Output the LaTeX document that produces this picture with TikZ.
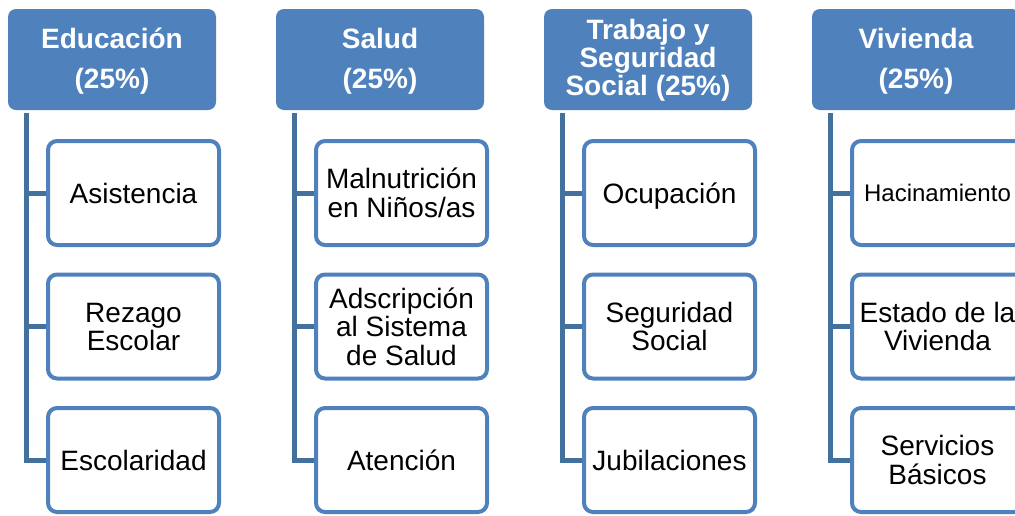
\documentclass[tikz,border=0pt]{standalone}
\usepackage{fontspec}
\setmainfont{Liberation Sans}
\definecolor{hdrblue}{HTML}{4F81BD}
\definecolor{linkblue}{HTML}{41719C}
\newcommand\myTop{\rule{0pt}{28pt}}
\newcommand\myBot{\rule[-8pt]{0pt}{8pt}}
\newcommand\myHBot{\rule[-11pt]{0pt}{11pt}}
\newcommand\myTBot{\rule[-12pt]{0pt}{12pt}}
\tikzset{
  hdr/.style={rectangle, rounded corners=8pt, fill=hdrblue, draw=none,
    minimum width=208pt, minimum height=101pt, inner sep=0pt,
    text=white, align=center, font=\bfseries\fontsize{28}{40}\selectfont},
  hdrtight/.style={hdr, font=\bfseries\fontsize{28}{28}\selectfont},
  child/.style={rectangle, rounded corners=9pt, draw=hdrblue, line width=4pt,
    fill=white, minimum width=171pt, minimum height=104pt, inner sep=0pt,
    text=black, align=center, font=\fontsize{28}{28.5}\selectfont},
  conn/.style={draw=linkblue, line width=5pt, line join=miter}
}
\begin{document}
\begin{tikzpicture}[x=1pt,y=-1pt]
\useasboundingbox (0,0) rectangle (1015,515);
\clip (0,0) rectangle (1015,515);
% headers
\node[hdr] (eh) at (112,59.5) {\myTop Educación\\(25\%)\myHBot};
\node[hdr] (sh) at (380,59.5) {\myTop Salud\\(25\%)\myHBot};
\node[hdrtight] (th) at (648,59.5) {\myTop Trabajo y\\Seguridad\\Social (25\%)\myTBot};
\node[hdr] (vh) at (916,59.5) {\myTop Vivienda\\(25\%)\myHBot};
% children
\node[child] (e1) at (133.5,193) {\myTop Asistencia\myBot};
\node[child] (e2) at (133.5,326.5) {\myTop Rezago\\Escolar\myBot};
\node[child] (e3) at (133.5,460) {\myTop Escolaridad\myBot};
\node[child] (s1) at (401.5,193) {\myTop Malnutrición\\en Niños/as\myBot};
\node[child] (s2) at (401.5,326.5) {\myTop Adscripción\\al Sistema\\de Salud\myBot};
\node[child] (s3) at (401.5,460) {\myTop Atención\myBot};
\node[child] (t1) at (669.5,193) {\myTop Ocupación\myBot};
\node[child] (t2) at (669.5,326.5) {\myTop Seguridad\\Social\myBot};
\node[child] (t3) at (669.5,460) {\myTop Jubilaciones\myBot};
\node[child, font=\fontsize{24}{28.5}\selectfont] (v1) at (937.5,193) {\rule{0pt}{26pt}Hacinamiento\rule[-8.8pt]{0pt}{8.8pt}};
\node[child] (v2) at (937.5,326.5) {\myTop Estado de la\\Vivienda\myBot};
\node[child] (v3) at (937.5,460) {\myTop Servicios\\Básicos\myBot};
% connectors
\foreach \h/\c in {eh/e, sh/s, th/t, vh/v}{
  \coordinate (\c top) at ([xshift=19pt,yshift=-3pt]\h.south west);
  \draw[conn] (\c top) |- (\c3.west);
  \draw[conn] (\c top |- \c1.west) -- (\c1.west);
  \draw[conn] (\c top |- \c2.west) -- (\c2.west);
}
\end{tikzpicture}
\end{document}
